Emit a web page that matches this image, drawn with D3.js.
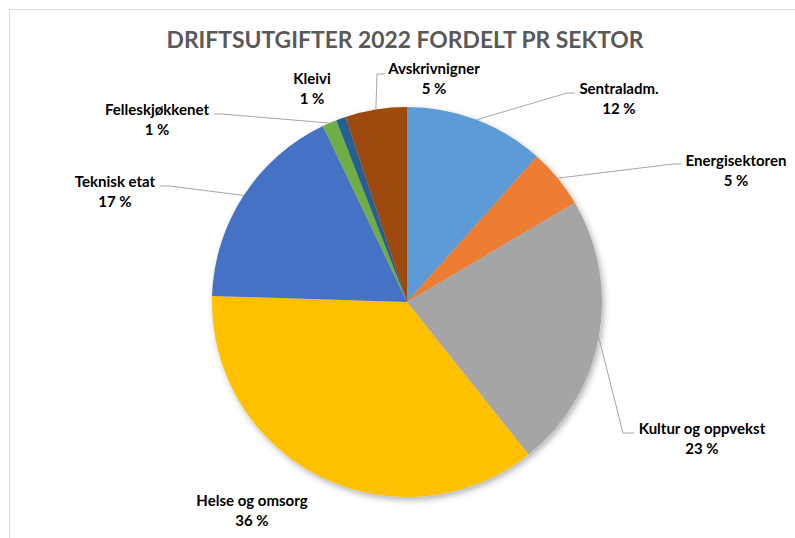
<!DOCTYPE html>
<html>
<head>
<meta charset="utf-8">
<script src="https://cdn.jsdelivr.net/npm/d3@7"></script>
<style>
  body { margin: 0; background: #fff; }
  svg text { font-family: Lato, "Open Sans", sans-serif; font-weight: bold; }
</style>
</head>
<body>
<div id="chart"></div>
<script>
const tittel = "DRIFTSUTGIFTER 2022 FORDELT PR SEKTOR";
const sektorer = ["Sentraladm.", "Energisektoren", "Kultur og oppvekst", "Helse og omsorg",
  "Teknisk etat", "Felleskjøkkenet", "Kleivi", "Avskrivnigner"];
const andeler = [11.6, 4.9, 22.8, 36.2, 17.4, 1.2, 0.8, 5.1];
const farger = ["#5b9bd5", "#ed7d31", "#a5a5a5", "#ffc000", "#4472c4", "#70ad47", "#255e91", "#9e480e"];

// plassering av etiketter (midt på tekst, grunnlinje for 1. linje) og knekkpunkt for linje
const etikettPlass = {
  "Sentraladm.":        { x: 619, y: 94,  knekk: [567, 93],  slutt: [575, 93] },
  "Energisektoren":     { x: 736, y: 166, knekk: [673, 164], slutt: [681, 164] },
  "Kultur og oppvekst": { x: 702, y: 434, knekk: [623, 433], slutt: [634, 433] },
  "Helse og omsorg":    { x: 252, y: 506 },
  "Teknisk etat":       { x: 115, y: 187, knekk: [170, 186], slutt: [160, 186] },
  "Felleskjøkkenet":    { x: 157, y: 115, knekk: [221, 114], slutt: [214, 114] },
  "Kleivi":             { x: 312, y: 84 },
  "Avskrivnigner":      { x: 434, y: 74,  knekk: [377, 74],  slutt: [385, 74] }
};

const bredde = 795, hoyde = 538;
const senter = [407, 302];
const radius = 195;

const svg = d3.select("#chart")
  .append("svg")
  .attr("width", bredde)
  .attr("height", hoyde);

const defs = svg.append("defs");
const skygge = defs.append("filter")
  .attr("id", "skygge")
  .attr("x", "-20%").attr("y", "-20%")
  .attr("width", "140%").attr("height", "140%");
skygge.append("feDropShadow")
  .attr("dx", 2).attr("dy", 3)
  .attr("stdDeviation", 3)
  .attr("flood-color", "#000")
  .attr("flood-opacity", 0.3);

// ramme rundt diagrammet
svg.append("rect")
  .attr("x", 9.5).attr("y", 9.5)
  .attr("width", 800).attr("height", 540)
  .attr("fill", "#fff")
  .attr("stroke", "#d9d9d9");

svg.append("text")
  .attr("x", 405)
  .attr("y", 48)
  .attr("text-anchor", "middle")
  .attr("fill", "#595959")
  .attr("font-size", "22px")
  .attr("textLength", 477)
  .attr("lengthAdjust", "spacingAndGlyphs")
  .text(tittel);

const data = sektorer.map((s, i) => ({ navn: s, verdi: andeler[i], farge: farger[i] }));
const total = d3.sum(andeler);

const pie = d3.pie().sort(null).value(d => d.verdi);
const arc = d3.arc().innerRadius(0).outerRadius(radius);
const kant = d3.arc().innerRadius(radius).outerRadius(radius);

const biter = pie(data);

const g = svg.append("g")
  .attr("transform", `translate(${senter[0]},${senter[1]})`);

g.append("g")
  .attr("filter", "url(#skygge)")
  .selectAll("path")
  .data(biter)
  .enter()
  .append("path")
  .attr("d", arc)
  .attr("fill", d => d.data.farge);

// linjer fra sektor til etikett
const linjer = biter.filter(d => etikettPlass[d.data.navn].knekk);
svg.selectAll("polyline.leder")
  .data(linjer)
  .enter()
  .append("polyline")
  .attr("class", "leder")
  .attr("fill", "none")
  .attr("stroke", "#a6a6a6")
  .attr("stroke-width", 1)
  .attr("points", d => {
    const p = kant.centroid(d);
    const e = etikettPlass[d.data.navn];
    return [[p[0] + senter[0], p[1] + senter[1]], e.knekk, e.slutt].map(q => q.join(",")).join(" ");
  });

const etiketter = svg.selectAll("text.etikett")
  .data(biter)
  .enter()
  .append("text")
  .attr("class", "etikett")
  .attr("text-anchor", "middle")
  .attr("fill", "#000")
  .attr("font-size", "15px");

etiketter.append("tspan")
  .attr("x", d => etikettPlass[d.data.navn].x)
  .attr("y", d => etikettPlass[d.data.navn].y)
  .text(d => d.data.navn);

etiketter.append("tspan")
  .attr("x", d => etikettPlass[d.data.navn].x)
  .attr("y", d => etikettPlass[d.data.navn].y + 19.5)
  .text(d => Math.round(d.data.verdi / total * 100) + " %");
</script>
</body>
</html>
